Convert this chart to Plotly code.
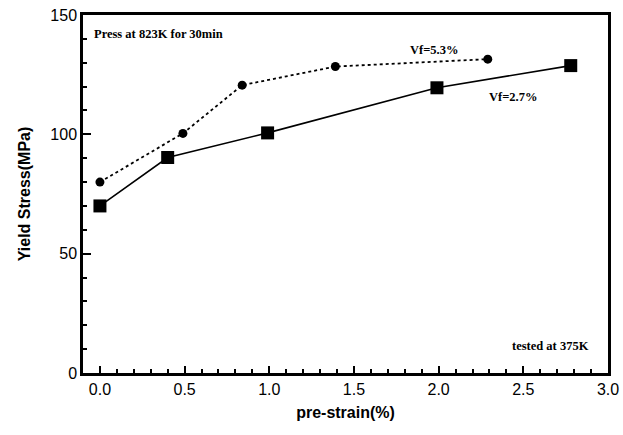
import plotly.graph_objects as go

strain_27 = [0.0, 0.4, 0.99, 1.99, 2.78]
stress_27 = [70, 90.3, 100.6, 119.5, 128.8]
strain_53 = [0.0, 0.49, 0.84, 1.39, 2.29]
stress_53 = [80, 100.4, 120.6, 128.4, 131.5]

x_ticks = [0.0, 0.5, 1.0, 1.5, 2.0, 2.5, 3.0]
x_ticklabels = ["0.0", "0.5", "1.0", "1.5", "2.0", "2.5", "3.0"]
y_ticks = [0, 50, 100, 150]

fig = go.Figure()
fig.add_trace(go.Scatter(
    x=strain_53, y=stress_53, mode="lines+markers", name="Vf=5.3%",
    line=dict(color="black", width=1.8, dash="dot"),
    marker=dict(symbol="circle", size=9, color="black"),
))
fig.add_trace(go.Scatter(
    x=strain_27, y=stress_27, mode="lines+markers", name="Vf=2.7%",
    line=dict(color="black", width=1.6),
    marker=dict(symbol="square", size=13, color="black"),
))

serif = dict(family="Liberation Serif, Times New Roman, serif", size=12.5, color="black")
anns = [
    dict(x=-0.045, y=142, text="<b>Press at 823K for 30min</b>", xanchor="left"),
    dict(x=1.97, y=135.3, text="<b>Vf=5.3%</b>", xanchor="center"),
    dict(x=2.44, y=115.6, text="<b>Vf=2.7%</b>", xanchor="center"),
    dict(x=2.66, y=11.3, text="<b>tested at 375K</b>", xanchor="center"),
]
for a in anns:
    fig.add_annotation(x=a["x"], y=a["y"], text=a["text"], xanchor=a["xanchor"],
                       yanchor="middle", showarrow=False, font=serif)

axis_font = dict(family="Liberation Sans, Arial, sans-serif", size=16, color="black")
fig.update_xaxes(
    range=[-0.1, 3.0], tickvals=x_ticks, ticktext=x_ticklabels,
    ticks="inside", ticklen=7, tickwidth=2, tickcolor="black",
    minor=dict(dtick=0.1, ticks="inside", ticklen=4, tickwidth=2, tickcolor="black"),
    showline=True, linewidth=2.5, linecolor="black", mirror=True,
    showgrid=False, zeroline=False, tickfont=axis_font, automargin=False,
    ticklabeloverflow="allow",
    title=dict(text="<b>pre-strain(%)</b>", font=axis_font, standoff=10),
)
fig.update_yaxes(
    range=[0, 150], tickvals=y_ticks,
    ticks="inside", ticklen=8, tickwidth=2, tickcolor="black",
    minor=dict(dtick=10, ticks="inside", ticklen=4, tickwidth=2, tickcolor="black"),
    showline=True, linewidth=2.5, linecolor="black", mirror=True,
    showgrid=False, zeroline=False, tickfont=axis_font, automargin=False,
    ticklabeloverflow="allow",
    title=dict(text="<b>Yield Stress(MPa)</b>", font=axis_font, standoff=16),
)
fig.update_layout(
    width=623, height=435, showlegend=False,
    margin=dict(l=83, r=15, t=15, b=62),
    plot_bgcolor="white", paper_bgcolor="white",
)
fig.write_html(
    "out.html",
    config={"displayModeBar": False},
    post_script="document.body.style.margin='0';document.body.style.overflow='hidden';",
)
